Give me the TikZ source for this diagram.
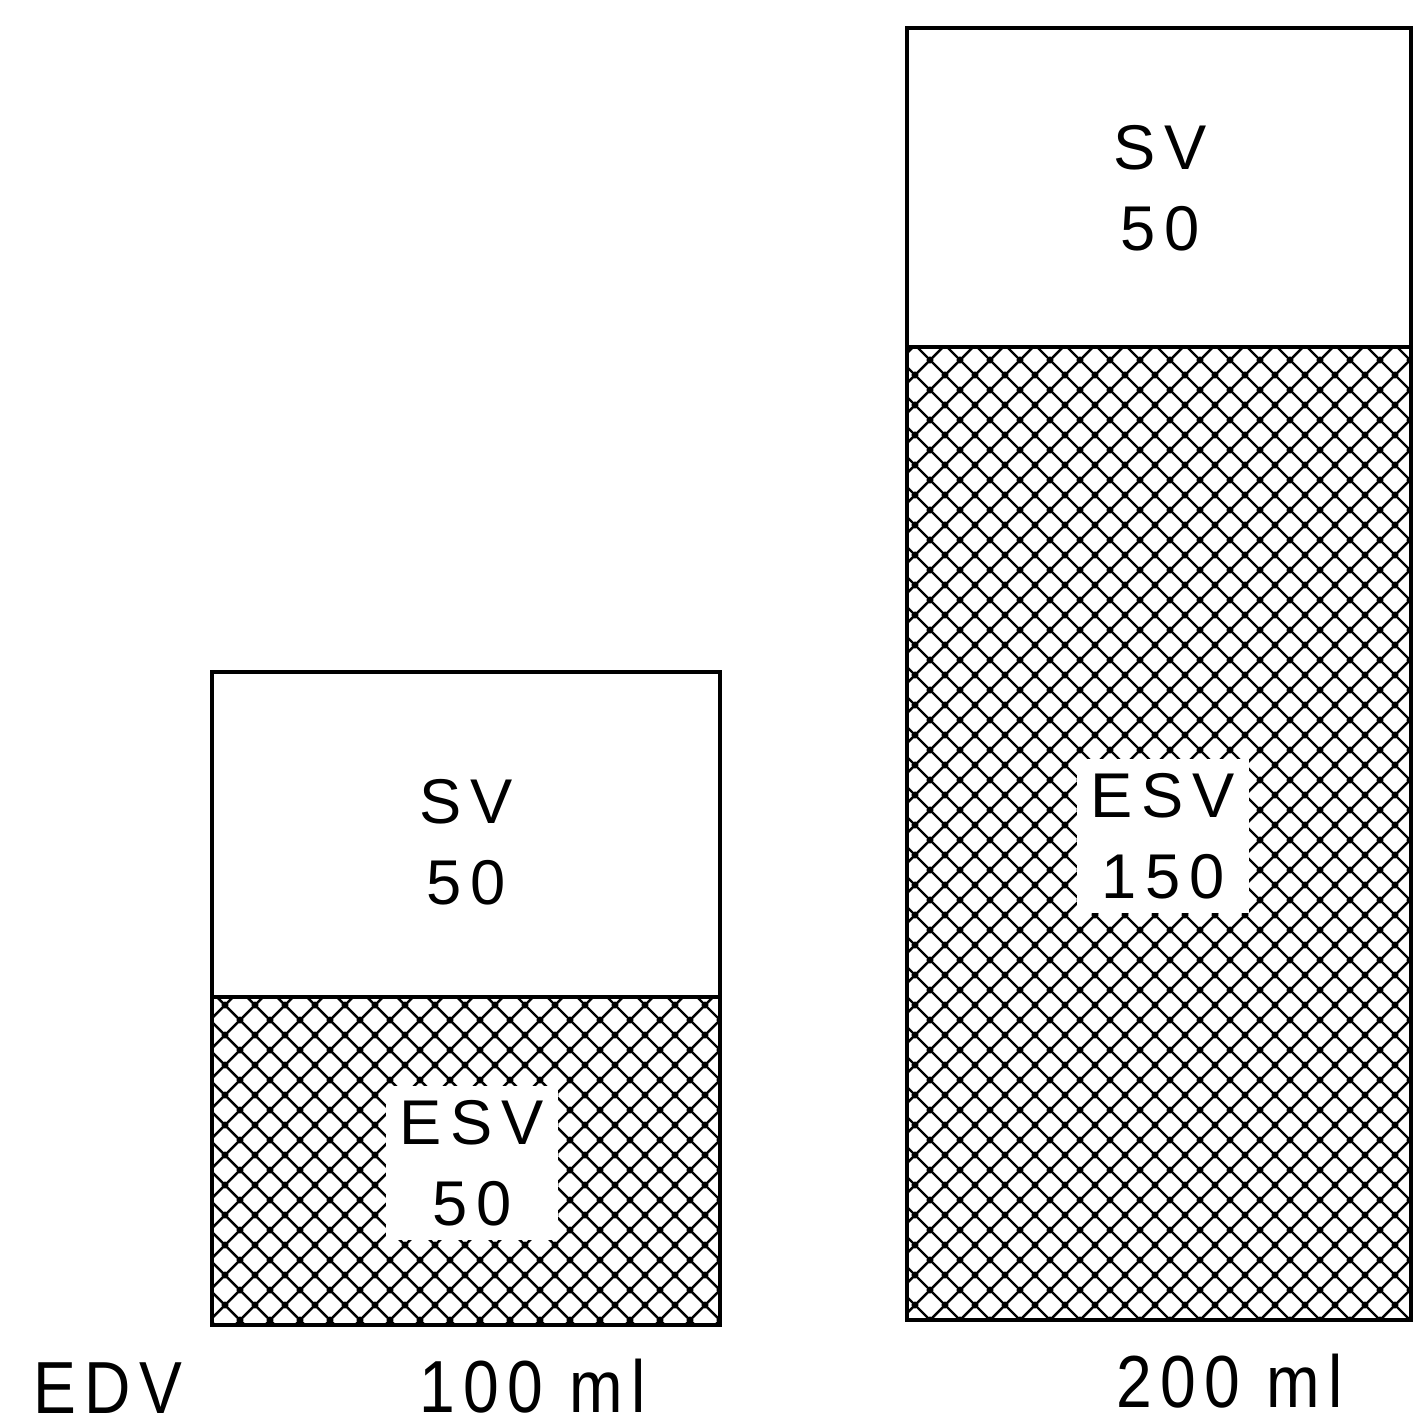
\documentclass[tikz,border=0pt]{standalone}
\usepackage{fontspec}
\setmainfont{Liberation Sans}[LetterSpace=14]
\newcommand{\lbl}{\fontsize{36}{46}\selectfont}
\newcommand{\foot}{\fontsize{42}{48}\selectfont\addfontfeature{LetterSpace=13}}
\tikzset{
  frame/.style={line width=2.6pt, line join=miter},
  hatch/.style={line width=1.4pt},
  knot/.style={fill=black},
  blank/.style={fill=white, inner sep=8pt},
  foot/.style={font=\foot, inner sep=0pt, xscale=0.87, transform shape}
}
\begin{document}
\begin{tikzpicture}[x=0.02cm, y=-0.02cm, every node/.style={font=\lbl, align=center}]
  \useasboundingbox (0,0) rectangle (1413,1428);
  % left column: 100 ml
  \coordinate (A) at (212,672); \coordinate (Am) at (212,997); \coordinate (B) at (720,1325);
  % right column: 200 ml
  \coordinate (C) at (907,28); \coordinate (Cm) at (907,347); \coordinate (D) at (1411,1320);
  \foreach \lo/\hi/\ia/\ib/\ja/\jb in {Am/B/6/24/32/44,Cm/D/29/47/10/44}{
    \begin{scope}
      \clip (\lo) rectangle (\hi);
      \foreach \c in {-1500,-1470,...,3000}{
        \draw[hatch] (\c,0) -- ++(1500,1500);
        \draw[hatch] (\c,0) -- ++(-1500,1500);
      }
      \foreach \i in {\ia,...,\ib}
        \foreach \j in {\ja,...,\jb}{
          \fill[knot] (30*\i,30*\j) circle (2pt);
          \fill[knot] (30*\i+15,30*\j+15) circle (2pt);
        }
    \end{scope}
  }
  \draw[frame] (A) rectangle (B);
  \draw[frame] (Am) -- (Am -| B);
  \draw[frame] (C) rectangle (D);
  \draw[frame] (Cm) -- (Cm -| D);
  \node (sv1) at (466,842) {SV\\50};
  \node[blank] (esv1) at (472,1163) {ESV\\50};
  \node (sv2) at (1160,188) {SV\\50};
  \node[blank] (esv2) at (1163,836) {ESV\\150};
  \node[foot] (edv) at (108,1388) {EDV};
  \node[foot] (vol1) at (533,1386) {100 ml};
  \node[foot] (vol2) at (1230,1381) {200 ml};
\end{tikzpicture}
\end{document}
